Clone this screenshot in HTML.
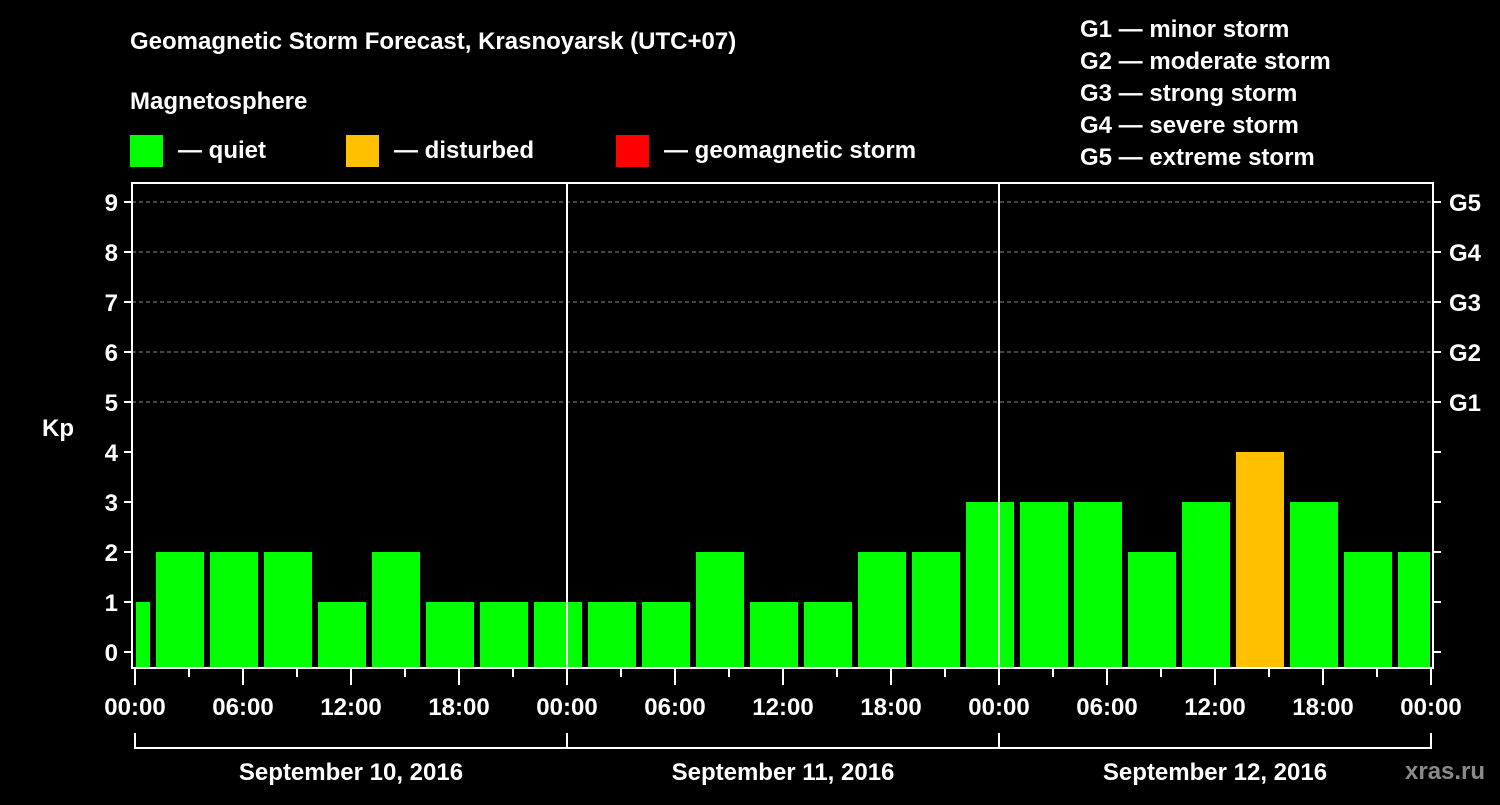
<!DOCTYPE html>
<html><head><meta charset="utf-8"><style>
body{margin:0;background:#000;width:1500px;height:800px;overflow:hidden}
svg text{font-family:"Liberation Sans",sans-serif;font-weight:bold;fill:#fff}
</style></head><body>
<svg width="1500" height="800" viewBox="0 0 1500 800">
<rect width="1500" height="800" fill="#000"/>
<text x="130" y="49" font-size="24">Geomagnetic Storm Forecast, Krasnoyarsk (UTC+07)</text>
<text x="130" y="109" font-size="24">Magnetosphere</text>
<g><rect x="130" y="135" width="33" height="32" fill="#00ff00"/><text x="178" y="158" font-size="24">— quiet</text></g>
<g><rect x="346" y="135" width="33" height="32" fill="#ffc000"/><text x="394" y="158" font-size="24">— disturbed</text></g>
<g><rect x="616" y="135" width="33" height="32" fill="#ff0000"/><text x="664" y="158" font-size="24">— geomagnetic storm</text></g>
<g font-size="24">
<text x="1080" y="37">G1 — minor storm</text>
<text x="1080" y="69">G2 — moderate storm</text>
<text x="1080" y="101">G3 — strong storm</text>
<text x="1080" y="133">G4 — severe storm</text>
<text x="1080" y="165">G5 — extreme storm</text>
</g>
<g id="plot"></g>
<text x="1405" y="779" font-size="24" fill="#888" style="fill:#8a8a8a">xras.ru</text>
</svg>
<script>
const kpValues=[1,2,2,2,1,2,1,1,1,1,1,2,1,1,2,2,3,3,3,2,3,4,3,2,2];
const barStartHours=-2; // first interval start, local hours
const yTicks=[0,1,2,3,4,5,6,7,8,9];
const gLabels=["G1","G2","G3","G4","G5"];
const xTickLabels=["00:00","06:00","12:00","18:00","00:00","06:00","12:00","18:00","00:00","06:00","12:00","18:00","00:00"];
const dayLabels=["September 10, 2016","September 11, 2016","September 12, 2016"];
const NS="http://www.w3.org/2000/svg";
const L=132,R=1433,T=183,B=668;
const x=h=>135+18*h;
const y=v=>652-50*v;
const g=document.getElementById('plot');
function mk(tag,attrs,parent){const e=document.createElementNS(NS,tag);for(const k in attrs)e.setAttribute(k,attrs[k]);(parent||g).appendChild(e);return e;}
// gridlines
yTicks.forEach(v=>{if(v>=5){const e=mk('line',{x1:L,x2:R,y1:y(v),y2:y(v),stroke:'#888','stroke-dasharray':'4,3','stroke-width':1});

}});
// bars
kpValues.forEach((v,i)=>{const h0=barStartHours+3*i;let x0=x(h0)+3,x1=x(h0+3)-3;x0=Math.max(x0,L+4);x1=Math.min(x1,R-3);
const e=mk('rect',{x:x0,y:y(v),width:x1-x0,height:B-y(v),fill:v>=5?'#ff0000':(v>=4?'#ffc000':'#00ff00')});

});
// day separators
[1,2].forEach(d=>{const e=mk('line',{x1:x(24*d),x2:x(24*d),y1:T,y2:B,stroke:'#fff','stroke-width':2});

});
// frame
const fr=mk('rect',{x:L,y:T,width:R-L,height:B-T,fill:'none',stroke:'#fff','stroke-width':2});


// y ticks
yTicks.forEach(v=>{mk('line',{x1:L-8,x2:L,y1:y(v),y2:y(v),stroke:'#fff','stroke-width':2});mk('line',{x1:R,x2:R+8,y1:y(v),y2:y(v),stroke:'#fff','stroke-width':2});
const t=mk('text',{x:L-14,y:y(v)+9,'font-size':24,'text-anchor':'end'});t.textContent=v;

});
gLabels.forEach((s,i)=>{const t=mk('text',{x:R+16,y:y(5+i)+9,'font-size':24});t.textContent=s;

});
const kp=mk('text',{x:42,y:436,'font-size':24});kp.textContent='Kp';


// x ticks
for(let h=0;h<=72;h+=3){mk('line',{x1:x(h),x2:x(h),y1:B,y2:h%6===0?B+17:B+9,stroke:'#fff','stroke-width':2});}
xTickLabels.forEach((s,i)=>{const t=mk('text',{x:x(6*i),y:715,'font-size':24,'text-anchor':'middle'});t.textContent=s;

});
// day brackets
mk('line',{x1:x(0),x2:x(72),y1:748,y2:748,stroke:'#fff','stroke-width':2});
[0,24,48,72].forEach(h=>mk('line',{x1:x(h),x2:x(h),y1:733,y2:749,stroke:'#fff','stroke-width':2}));
dayLabels.forEach((s,i)=>{const t=mk('text',{x:x(24*i+12),y:780,'font-size':24,'text-anchor':'middle'});t.textContent=s;

});
</script>
</body></html>
